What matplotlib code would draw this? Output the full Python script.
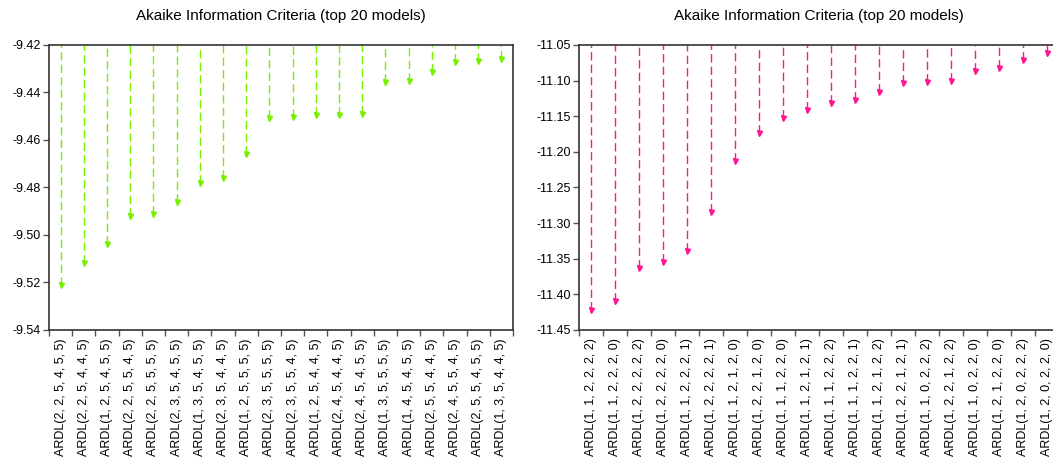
import matplotlib
matplotlib.use("Agg")
import matplotlib.pyplot as plt
import numpy as np

plt.rcParams['font.family'] = ['Liberation Sans', 'DejaVu Sans']

title = "Akaike Information Criteria (top 20 models)"

left_models = ["ARDL(2, 2, 5, 4, 5, 5)", "ARDL(2, 2, 5, 4, 4, 5)", "ARDL(1, 2, 5, 4, 5, 5)",
               "ARDL(2, 2, 5, 5, 4, 5)", "ARDL(2, 2, 5, 5, 5, 5)", "ARDL(2, 3, 5, 4, 5, 5)",
               "ARDL(1, 3, 5, 4, 5, 5)", "ARDL(2, 3, 5, 4, 4, 5)", "ARDL(1, 2, 5, 5, 5, 5)",
               "ARDL(2, 3, 5, 5, 5, 5)", "ARDL(2, 3, 5, 5, 4, 5)", "ARDL(1, 2, 5, 4, 4, 5)",
               "ARDL(2, 4, 5, 4, 4, 5)", "ARDL(2, 4, 5, 4, 5, 5)", "ARDL(1, 3, 5, 5, 5, 5)",
               "ARDL(1, 4, 5, 4, 5, 5)", "ARDL(2, 5, 5, 4, 4, 5)", "ARDL(2, 4, 5, 5, 4, 5)",
               "ARDL(2, 5, 5, 4, 5, 5)", "ARDL(1, 3, 5, 4, 4, 5)"]
left_aic = [-9.521, -9.512, -9.504, -9.492, -9.491, -9.486, -9.478, -9.476, -9.466, -9.4506,
            -9.4504, -9.4497, -9.4497, -9.4489, -9.4355, -9.4352, -9.4315, -9.4272, -9.4266, -9.4259]

right_models = ["ARDL(1, 1, 2, 2, 2, 2)", "ARDL(1, 1, 2, 2, 2, 0)", "ARDL(1, 2, 2, 2, 2, 2)",
                "ARDL(1, 2, 2, 2, 2, 0)", "ARDL(1, 1, 2, 2, 2, 1)", "ARDL(1, 2, 2, 2, 2, 1)",
                "ARDL(1, 1, 2, 1, 2, 0)", "ARDL(1, 2, 2, 1, 2, 0)", "ARDL(1, 1, 1, 2, 2, 0)",
                "ARDL(1, 1, 2, 1, 2, 1)", "ARDL(1, 1, 1, 2, 2, 2)", "ARDL(1, 1, 1, 2, 2, 1)",
                "ARDL(1, 1, 2, 1, 2, 2)", "ARDL(1, 2, 2, 1, 2, 1)", "ARDL(1, 1, 0, 2, 2, 2)",
                "ARDL(1, 2, 2, 1, 2, 2)", "ARDL(1, 1, 0, 2, 2, 0)", "ARDL(1, 2, 1, 2, 2, 0)",
                "ARDL(1, 2, 0, 2, 2, 2)", "ARDL(1, 2, 0, 2, 2, 0)"]
right_aic = [-11.422, -11.410, -11.363, -11.354, -11.339, -11.285, -11.213, -11.173, -11.152, -11.142,
             -11.131, -11.127, -11.116, -11.104, -11.102, -11.100, -11.087, -11.083, -11.071, -11.062]


def draw(ax, models, vals, ylim, step, color):
    x = np.arange(len(models))
    ax.vlines(x, vals, ylim[1], colors=color, linestyles=(0, (6, 3)), linewidth=1.0)
    ax.plot(x, vals, linestyle='none', marker='v', markersize=3.6, color=color)
    ax.set_xlim(-0.5, len(models) - 0.5)
    ax.set_ylim(*ylim)
    ax.set_yticks(np.arange(ylim[0], ylim[1] + step / 2, step))
    ax.yaxis.set_major_formatter(plt.FormatStrFormatter('%.2f'))
    ax.set_xticks(x)
    ax.set_xticklabels(models, rotation=90, fontsize=9)
    ax.tick_params(axis='x', which='major', length=0, pad=6)
    ax.set_xticks(np.arange(-0.5, len(models)), minor=True)
    ax.tick_params(axis='x', which='minor', length=4, color='#555555', width=1)
    ax.tick_params(axis='y', length=4, color='#555555', width=1, labelsize=9, pad=2)
    for s in ax.spines.values():
        s.set_color('#333333')
        s.set_linewidth(1.2)
    ax.set_title(title, fontsize=11, pad=18)


fig = plt.figure(figsize=(10.53, 4.68), dpi=100)
ax1 = fig.add_axes([0.0465, 0.295, 0.4406, 0.609])
ax2 = fig.add_axes([0.5499, 0.295, 0.4558, 0.609])

draw(ax1, left_models, left_aic, (-9.54, -9.42), 0.02, '#77F000')
draw(ax2, right_models, right_aic, (-11.45, -11.05), 0.05, '#FF1493')

fig.savefig("out.png", dpi=100)
